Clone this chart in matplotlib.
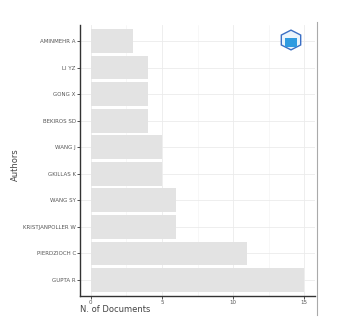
import numpy as np
import matplotlib.pyplot as plt
from matplotlib.patches import RegularPolygon, Rectangle

authors = ['GUPTA R', 'PIERDZIOCH C', 'KRISTJANPOLLER W', 'WANG SY', 'GKILLAS K',
           'WANG J', 'BEKIROS SD', 'GONG X', 'LI YZ', 'AMINMEHR A']
docs = [15, 11, 6, 6, 5, 5, 4, 4, 4, 3]

fig = plt.figure(figsize=(3.61, 3.19), dpi=100)
ax = fig.add_axes([80 / 361, 1 - 296 / 319, (315 - 80) / 361, (296 - 25) / 319])

y = np.arange(len(authors))
ax.barh(y, docs, height=0.9, color='#e3e3e3', zorder=2)

ax.set_xlim(-0.75, 15.75)
ax.set_ylim(-0.6, len(authors) - 0.4)
ax.set_xticks([0, 5, 10, 15])
ax.set_xticks([2.5, 7.5, 12.5], minor=True)
ax.set_yticks(y)
ax.set_yticklabels(authors)
ax.tick_params(axis='both', labelsize=4, colors='#333333', length=2, width=0.6,
               labelcolor='#555555', pad=1)
ax.tick_params(axis='x', which='minor', length=0)
ax.grid(True, which='major', color='#ebebeb', lw=0.6, zorder=0)
ax.grid(True, which='minor', axis='x', color='#f2f2f2', lw=0.4, zorder=0)

for s in ['top', 'right']:
    ax.spines[s].set_visible(False)
ax.spines['left'].set_color('#333333')
ax.spines['bottom'].set_color('#333333')
ax.spines['left'].set_linewidth(1.0)
ax.spines['bottom'].set_linewidth(1.0)

fig.text(15 / 361, 1 - 165 / 319, 'Authors', rotation=90, fontsize=6, color='#444444',
         ha='center', va='center')
fig.text(80 / 361, 1 - 310 / 319, 'N. of Documents', fontsize=6, color='#444444',
         ha='left', va='center')

# panel border on the right
fig.add_artist(plt.Line2D([317 / 361, 317 / 361], [1 - 22 / 319, 1 - 315 / 319],
                          color='#aaaaaa', lw=0.8))

# small logo in the corner
cx, cy = 291 / 361, 1 - 40 / 319
logo = RegularPolygon((cx, cy), numVertices=6, radius=0.031,
                      orientation=0, transform=fig.transFigure,
                      facecolor='#eaf4fc', edgecolor='#3b6fc4', lw=1.0)
fig.add_artist(logo)
fig.add_artist(Rectangle((cx - 0.018, cy - 0.022), 0.036, 0.028,
                         transform=fig.transFigure, facecolor='#2f9be0',
                         edgecolor='none'))

fig.savefig('out.png', dpi=100)
